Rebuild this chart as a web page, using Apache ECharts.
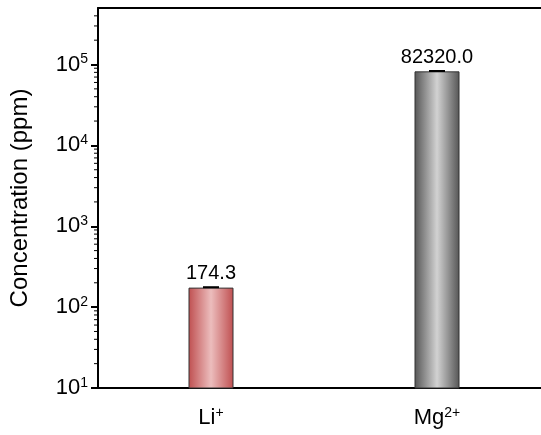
<!DOCTYPE html>
<html><head><meta charset="utf-8">
<script src="https://cdn.jsdelivr.net/npm/echarts@6/dist/echarts.min.js"></script>
<style>html,body{margin:0;padding:0;background:#fff}#c{width:541px;height:435px}</style>
</head><body><div id="c"></div>
<script>
const categories = ['Li', 'Mg'];
const categorySup = ['+', '2+'];
const values = [174.3, 82320.0];
const errors = [2, 900];
const valueLabels = ['174.3', '82320.0'];
const majorTicks = [10, 100, 1000, 10000, 100000];
const minorTicks = [20,30,40,50,60,70,80,90,200,300,400,500,600,700,800,900,2000,3000,4000,5000,6000,7000,8000,9000,20000,30000,40000,50000,60000,70000,80000,90000,200000,300000,400000];
const barColors = [
  ['#bf4f50', '#ecbdbd'],
  ['#555555', '#d2d2d2']
];
const FONT = 'Liberation Sans, Arial, sans-serif';

function grad(c) {
  return new echarts.graphic.LinearGradient(0, 0, 1, 0, [
    {offset: 0, color: c[0]}, {offset: 0.5, color: c[1]}, {offset: 1, color: c[0]}
  ]);
}
const supRich = {
  b: {fontSize: 22, fontFamily: FONT, color: '#000'},
  s: {fontSize: 14, fontFamily: FONT, color: '#000', verticalAlign: 'top', padding: [0, 0, 10, 0]}
};

const chart = echarts.init(document.getElementById('c'), null, {renderer: 'canvas'});
chart.setOption({
  animation: false,
  grid: {left: 98, width: 452, top: 8, height: 380, containLabel: false, outerBoundsMode: 'none'},
  xAxis: [{
    type: 'category', data: categories, position: 'bottom',
    axisLine: {lineStyle: {color: '#000', width: 2}},
    axisTick: {alignWithLabel: true, length: 6, lineStyle: {color: '#000', width: 2}},
    axisLabel: {
      margin: 18, color: '#000', fontFamily: FONT, fontSize: 22,
      formatter: function (v, i) { return '{b|' + v + '}{s|' + categorySup[i] + '}'; },
      rich: supRich
    }
  }, {
    type: 'category', data: categories, position: 'top',
    axisLine: {lineStyle: {color: '#000', width: 2}},
    axisTick: {show: false}, axisLabel: {show: false}
  }],
  yAxis: [{
    type: 'log', logBase: 10, min: 10, max: 500000,
    name: 'Concentration (ppm)', nameLocation: 'middle', nameGap: 66,
    nameTextStyle: {fontFamily: FONT, fontSize: 24, color: '#000'},
    axisLine: {show: true, lineStyle: {color: '#000', width: 2}},
    axisTick: {show: true, length: 7, lineStyle: {color: '#000', width: 2}, customValues: majorTicks},
    axisLabel: {
      color: '#000', margin: 10, customValues: majorTicks,
      formatter: function (v) { return '{b|10}{s|' + Math.round(Math.log10(v)) + '}'; },
      rich: supRich
    },
    splitLine: {show: false}
  }],
  series: [{
    type: 'bar', barWidth: 45, xAxisIndex: 0, yAxisIndex: 0,
    data: values.map(function (v, i) {
      return {value: v, itemStyle: {color: grad(barColors[i]), borderColor: '#333', borderWidth: 1}};
    }),
    label: {
      show: true, position: 'top', distance: 4, color: '#000', fontFamily: FONT, fontSize: 20,
      formatter: function (p) { return valueLabels[p.dataIndex]; }
    },
    z: 2
  }, {
    type: 'custom', xAxisIndex: 0, yAxisIndex: 0, z: 5, clip: false,
    data: values.map(function (v, i) { return [i, v - errors[i], v + errors[i]]; }),
    renderItem: function (params, api) {
      const lo = api.coord([api.value(0), api.value(1)]);
      const hi = api.coord([api.value(0), api.value(2)]);
      const hw = 8;
      return {type: 'group', children: [
        {type: 'line', shape: {x1: hi[0], y1: hi[1], x2: lo[0], y2: lo[1]}, style: {stroke: '#000', lineWidth: 1.5}},
        {type: 'line', shape: {x1: hi[0]-hw, y1: hi[1], x2: hi[0]+hw, y2: hi[1]}, style: {stroke: '#000', lineWidth: 2}}
      ]};
    }
  }, {
    type: 'custom', xAxisIndex: 0, yAxisIndex: 0, z: 6, clip: false, silent: true,
    data: minorTicks.map(function (v) { return [0, v]; }),
    renderItem: function (params, api) {
      const p = api.coord([0, api.value(1)]);
      const x0 = params.coordSys.x;
      return {type: 'line', shape: {x1: x0 - 4, y1: p[1], x2: x0, y2: p[1]}, style: {stroke: '#000', lineWidth: 1}};
    }
  }]
});
</script></body></html>
